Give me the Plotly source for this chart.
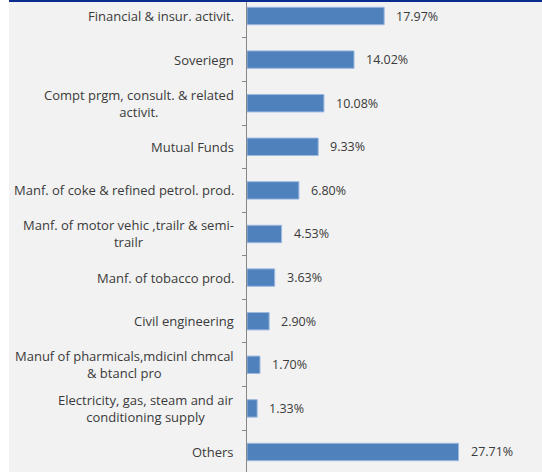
import plotly.graph_objects as go

categories = [
    "Financial & insur. activit.",
    "Soveriegn",
    "Compt prgm, consult. & related<br>activit.",
    "Mutual Funds",
    "Manf. of coke & refined petrol. prod.",
    "Manf. of motor vehic ,trailr & semi-<br>trailr",
    "Manf. of tobacco prod.",
    "Civil engineering",
    "Manuf of pharmicals,mdicinl chmcal<br>& btancl pro",
    "Electricity, gas, steam and air<br>conditioning supply",
    "Others",
]
values = [17.97, 14.02, 10.08, 9.33, 6.80, 4.53, 3.63, 2.90, 1.70, 1.33, 27.71]
value_labels = [f"{v:.2f}%" for v in values]

W, H = 542, 472
ML, MR = 247, 66
PW = W - ML - MR
FONT = "Open Sans"
TXT = "#3A3A3A"


def px_to_paper(px):
    return (px - ML) / PW


fig = go.Figure(
    go.Bar(
        x=values,
        y=list(range(len(categories))),
        orientation="h",
        width=0.4,
        marker=dict(color="#4F81BD", line=dict(color="#9DB9E0", width=1)),
        hoverinfo="skip",
    )
)

annotations = []
# category labels, right-aligned block with centred lines
for i, c in enumerate(categories):
    annotations.append(dict(
        x=px_to_paper(236), xref="paper", y=i, yref="y",
        text=c, showarrow=False, xanchor="right", yanchor="middle",
        align="center", font=dict(family=FONT, size=13, color=TXT),
    ))
# value labels
for i, (v, t) in enumerate(zip(values, value_labels)):
    annotations.append(dict(
        x=v, xref="x", y=i, yref="y", text=t, showarrow=False,
        xanchor="left", yanchor="middle", xshift=10,
        font=dict(family=FONT, size=12.5, color=TXT),
    ))

shapes = [
    # white strip on the left edge
    dict(type="rect", xref="paper", yref="paper",
         x0=px_to_paper(0), x1=px_to_paper(9), y0=-0.1, y1=1.1,
         fillcolor="white", line=dict(width=0), layer="below"),
    # dark blue rule at the top
    dict(type="rect", xref="paper", yref="paper",
         x0=px_to_paper(9), x1=px_to_paper(W + 2), y0=1 - 2 / H, y1=1.01,
         fillcolor="#0A2C8E", line=dict(width=0), layer="above"),
]

fig.update_layout(
    width=W, height=H,
    margin=dict(l=ML, r=MR, t=0, b=0, pad=0),
    paper_bgcolor="#F2F2F2", plot_bgcolor="#F2F2F2",
    showlegend=False,
    annotations=annotations,
    shapes=shapes,
    xaxis=dict(range=[0, 30], visible=False, fixedrange=True),
    yaxis=dict(
        range=[10.459, -0.367],
        tickmode="array",
        tickvals=[i + 0.5 for i in range(-1, len(categories))],
        ticktext=[""] * (len(categories) + 1),
        ticks="outside", ticklen=4, tickcolor="#868686", tickwidth=1,
        showline=True, linecolor="#868686", linewidth=1,
        showgrid=False, zeroline=False, fixedrange=True,
    ),
)

fig.write_html("out.html")
